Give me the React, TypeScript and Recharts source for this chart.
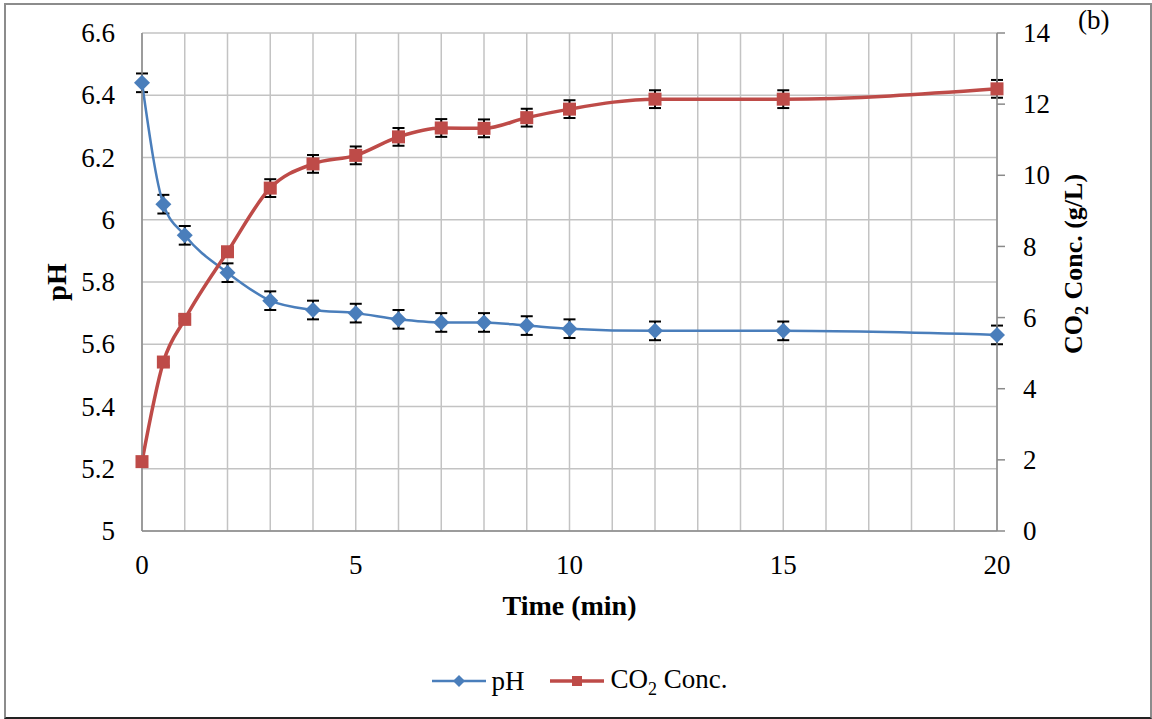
import { LineChart, Line, XAxis, YAxis, CartesianGrid, ErrorBar, Legend, Label } from 'recharts'

const times = [0, 0.5, 1, 2, 3, 4, 5, 6, 7, 8, 9, 10, 12, 15, 20]
const phValues = [6.44, 6.05, 5.95, 5.83, 5.74, 5.71, 5.7, 5.68, 5.67, 5.67, 5.66, 5.65, 5.643, 5.643, 5.63]
const phErrors = [0.03, 0.03, 0.03, 0.03, 0.03, 0.03, 0.03, 0.03, 0.03, 0.03, 0.03, 0.03, 0.03, 0.03, 0.03]
const co2Values = [1.95, 4.75, 5.95, 7.85, 9.64, 10.32, 10.56, 11.08, 11.33, 11.32, 11.62, 11.86, 12.14, 12.14, 12.43]
const co2Errors = [0.1, 0.1, 0.1, 0.1, 0.25, 0.25, 0.25, 0.25, 0.25, 0.25, 0.25, 0.25, 0.25, 0.25, 0.25]

const timeTicks = [0, 1, 2, 3, 4, 5, 6, 7, 8, 9, 10, 11, 12, 13, 14, 15, 16, 17, 18, 19, 20]
const timeLabels = ['0', '5', '10', '15', '20']
const phTicks = [5, 5.2, 5.4, 5.6, 5.8, 6, 6.2, 6.4, 6.6]
const co2Ticks = [0, 2, 4, 6, 8, 10, 12, 14]

const rows = times.map((t, i) => ({
  time: t,
  ph: phValues[i],
  phErr: phErrors[i],
  co2: co2Values[i],
  co2Err: co2Errors[i],
}))

const SERIF = '"Liberation Serif", "Times New Roman", serif'
const BLUE = '#4A7EBB'
const RED = '#BE4B48'
const GRID = '#c3c3c3'
const AXIS = '#8a8a8a'

const W = 1152
const H = 719
const PLOT_LEFT = 142
const PLOT_RIGHT = 997
const PLOT_TOP = 33
const PLOT_BOTTOM = 531
const LEGEND_H = 60
const TICK_FONT = 27

// eslint-disable-next-line @typescript-eslint/no-explicit-any
function XTick(p: any) {
  const label = String(p.payload.value)
  if (!timeLabels.includes(label)) return <g />
  return (
    <text x={p.x} y={p.y} dy="0.71em" textAnchor="middle" fontFamily={SERIF} fontSize={TICK_FONT} fill="#000">
      {label}
    </text>
  )
}

// eslint-disable-next-line @typescript-eslint/no-explicit-any
function LeftTick(p: any) {
  return (
    <text x={p.x} y={p.y} dy="0.34em" textAnchor="end" fontFamily={SERIF} fontSize={TICK_FONT} fill="#000">
      {String(p.payload.value)}
    </text>
  )
}

// eslint-disable-next-line @typescript-eslint/no-explicit-any
function RightTick(p: any) {
  return (
    <text x={p.x} y={p.y} dy="0.34em" textAnchor="start" fontFamily={SERIF} fontSize={TICK_FONT} fill="#000">
      {String(p.payload.value)}
    </text>
  )
}

// eslint-disable-next-line @typescript-eslint/no-explicit-any
function Diamond(p: any) {
  const { cx, cy, index } = p
  if (cx == null || cy == null) return null
  return <path key={`d${index}`} d={`M${cx},${cy - 8}L${cx + 8},${cy}L${cx},${cy + 8}L${cx - 8},${cy}Z`} fill={BLUE} />
}

// eslint-disable-next-line @typescript-eslint/no-explicit-any
function Square(p: any) {
  const { cx, cy, index } = p
  if (cx == null || cy == null) return null
  return <rect key={`s${index}`} x={cx - 6.5} y={cy - 6.5} width={13} height={13} fill={RED} />
}

function LegendBox() {
  return (
    <div
      style={{
        height: LEGEND_H, display: 'flex', justifyContent: 'center', alignItems: 'flex-start',
        fontFamily: SERIF, fontSize: 27, color: '#000', paddingLeft: 8, boxSizing: 'border-box',
      }}
    >
      <div style={{ display: 'flex', alignItems: 'center', paddingTop: 5, lineHeight: '30px' }}>
        <svg width={54} height={20}>
          <line x1={0} y1={10} x2={54} y2={10} stroke={BLUE} strokeWidth={2.5} />
          <path d="M27,4L33,10L27,16L21,10Z" fill={BLUE} />
        </svg>
        <span style={{ marginLeft: 5 }}>pH</span>
        <svg width={54} height={20} style={{ marginLeft: 26 }}>
          <line x1={0} y1={10} x2={54} y2={10} stroke={RED} strokeWidth={3.5} />
          <rect x={22} y={5} width={10} height={10} fill={RED} />
        </svg>
        <span style={{ marginLeft: 6 }}>
          CO<span style={{ fontSize: 18, position: 'relative', top: 7 }}>2</span> Conc.
        </span>
      </div>
    </div>
  )
}

export default function App() {
  const midX = (PLOT_LEFT + PLOT_RIGHT) / 2
  const midY = (PLOT_TOP + PLOT_BOTTOM) / 2

  return (
    <div style={{ position: 'relative', width: W, height: H, background: '#fff' }}>
      <style>{'body{margin:0}'}</style>
      <LineChart
        width={W}
        height={H}
        data={rows}
        margin={{ top: PLOT_TOP, right: 0, bottom: 0, left: 0 }}
        style={{ fontFamily: SERIF }}
      >
        <CartesianGrid yAxisId="left" stroke={GRID} strokeWidth={1.5} />
        <XAxis
          dataKey="time"
          type="number"
          domain={[0, 20]}
          ticks={timeTicks}
          interval={0}
          tick={XTick}
          tickLine={false}
          tickSize={0}
          tickMargin={24}
          axisLine={{ stroke: AXIS, strokeWidth: 1.5 }}
          height={H - PLOT_BOTTOM - LEGEND_H}
        >
          <Label
            content={() => (
              <text x={midX} y={615} textAnchor="middle" fontFamily={SERIF} fontSize={28} fontWeight="bold" fill="#000">
                Time (min)
              </text>
            )}
          />
        </XAxis>
        <YAxis
          yAxisId="left"
          type="number"
          domain={[5, 6.6]}
          ticks={phTicks}
          interval={0}
          tick={LeftTick}
          tickLine={false}
          tickSize={0}
          tickMargin={27}
          axisLine={{ stroke: AXIS, strokeWidth: 1.5 }}
          width={PLOT_LEFT}
        >
          <Label
            content={() => (
              <text
                transform={`translate(66,${midY}) rotate(-90)`}
                textAnchor="middle"
                fontFamily={SERIF}
                fontSize={28}
                fontWeight="bold"
                fill="#000"
              >
                pH
              </text>
            )}
          />
        </YAxis>
        <YAxis
          yAxisId="right"
          orientation="right"
          type="number"
          domain={[0, 14]}
          ticks={co2Ticks}
          interval={0}
          tick={RightTick}
          tickLine={{ stroke: AXIS, strokeWidth: 1.5 }}
          tickSize={8}
          tickMargin={18}
          axisLine={{ stroke: AXIS, strokeWidth: 1.5 }}
          width={W - PLOT_RIGHT}
        >
          <Label
            content={() => (
              <g>
                <text
                  transform={`translate(1082,${midY - 18}) rotate(-90)`}
                  textAnchor="middle"
                  fontFamily={SERIF}
                  fontSize={26}
                  fontWeight="bold"
                  fill="#000"
                >
                  CO<tspan fontSize={18} dy={6}>2</tspan><tspan dy={-6}> Conc. (g/L)</tspan>
                </text>
                <text x={1078} y={29} fontFamily={SERIF} fontSize={27} fill="#000">
                  (b)
                </text>
              </g>
            )}
          />
        </YAxis>
        <Legend verticalAlign="bottom" height={LEGEND_H} content={() => <LegendBox />} />
        <Line
          yAxisId="left"
          dataKey="ph"
          type="monotone"
          stroke={BLUE}
          strokeWidth={2.5}
          dot={Diamond}
          activeDot={false}
          isAnimationActive={false}
        >
          <ErrorBar dataKey="phErr" direction="y" width={6} stroke="#000" strokeWidth={2} />
        </Line>
        <Line
          yAxisId="right"
          dataKey="co2"
          type="monotone"
          stroke={RED}
          strokeWidth={3.5}
          dot={Square}
          activeDot={false}
          isAnimationActive={false}
        >
          <ErrorBar dataKey="co2Err" direction="y" width={6} stroke="#000" strokeWidth={2} />
        </Line>
      </LineChart>
      <div
        style={{
          position: 'absolute', left: 4, top: 3, width: 1148, height: 716, boxSizing: 'border-box',
          border: '2px solid #8c8c8c', borderBottomColor: '#222', pointerEvents: 'none',
        }}
      />
    </div>
  )
}
